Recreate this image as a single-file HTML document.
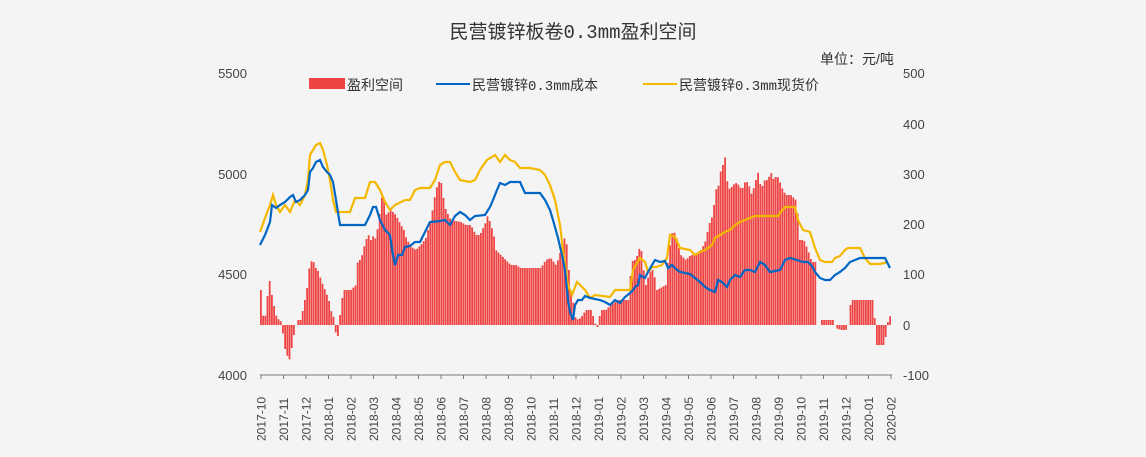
<!DOCTYPE html>
<html><head><meta charset="utf-8"><style>
body{margin:0;background:#f4f4f4;}
svg{display:block;font-family:"Liberation Sans","Noto Sans CJK SC",sans-serif;}
</style></head><body>
<svg id="s" width="1146" height="457" xmlns="http://www.w3.org/2000/svg">
<rect width="1146" height="457" fill="#f4f4f4"/>
<text x="573" y="38" font-size="19" text-anchor="middle" fill="#333" font-family="Liberation Mono,'Noto Sans CJK SC',monospace">民营镀锌板卷0.3mm盈利空间</text>
<text x="820" y="64" font-size="14" fill="#333">单位：元/吨</text>
<g font-size="13" fill="#444">
<text x="247" y="78" text-anchor="end">5500</text>
<text x="247" y="179" text-anchor="end">5000</text>
<text x="247" y="279" text-anchor="end">4500</text>
<text x="247" y="380" text-anchor="end">4000</text>
<text x="903" y="78">500</text>
<text x="903" y="129">400</text>
<text x="903" y="179">300</text>
<text x="903" y="229">200</text>
<text x="903" y="279">100</text>
<text x="903" y="330">0</text>
<text x="903" y="380">-100</text>
</g>
<g font-size="14" fill="#333">
<rect x="309" y="78" width="36" height="11" fill="#ee4444"/>
<text x="347" y="90">盈利空间</text>
<line x1="436" y1="84" x2="470" y2="84" stroke="#0066c4" stroke-width="2"/>
<text x="472" y="90" font-family="Liberation Mono,'Noto Sans CJK SC',monospace">民营镀锌0.3mm成本</text>
<line x1="643" y1="84" x2="677" y2="84" stroke="#f5b800" stroke-width="2"/>
<text x="679" y="90" font-family="Liberation Mono,'Noto Sans CJK SC',monospace">民营镀锌0.3mm现货价</text>
</g>
<g id="bars" fill="#ee4444"></g>
<polyline id="yl" fill="none" stroke="#f5b800" stroke-width="2.2"/>
<polyline id="bl" fill="none" stroke="#0066c4" stroke-width="2.2"/>
<line x1="260" y1="375" x2="892" y2="375" stroke="#777" stroke-width="1"/>
<g id="xl" font-size="12" fill="#444"></g>
</svg>
<script>
var NS="http://www.w3.org/2000/svg";
var Y=[260,232,265,218,270,205,273,195,276,205,280,212,285,205,290,212,295,200,300,205,305,195,308,180,310,155,313,150,316,145,320,143,323,150,327,165,330,180,333,200,336,212,350,212,355,198,365,198,370,182,375,182,380,190,385,202,390,210,395,205,405,200,410,200,415,190,420,188,430,188,435,180,440,165,445,162,450,162,455,172,460,180,470,182,475,180,480,170,487,160,495,155,500,162,505,155,510,160,515,162,520,168,530,168,540,170,545,175,550,185,555,200,560,225,563,250,568,285,572,295,577,282,585,290,590,298,595,295,610,297,615,290,630,290,633,270,637,263,640,258,645,262,648,272,652,267,656,267,662,265,667,258,670,235,675,237,680,248,690,250,695,255,700,252,705,250,712,245,715,238,720,235,725,232,730,230,735,225,740,222,745,220,750,218,755,216,778,216,780,213,785,207,795,207,798,220,803,230,810,232,815,248,820,260,825,262,832,262,835,258,840,256,845,250,848,248,860,248,865,258,870,264,880,264,888,262];
var B=[260,245,265,235,270,222,272,205,276,208,280,205,285,202,290,197,293,195,296,202,300,200,305,195,308,190,310,172,313,168,316,162,320,160,323,167,327,172,330,175,333,182,336,200,340,225,365,225,370,215,373,207,376,207,380,220,385,230,390,235,393,255,395,265,398,255,402,255,405,247,410,246,415,242,420,242,425,232,430,222,440,221,445,220,450,225,455,216,460,212,465,215,470,220,475,216,485,215,490,207,493,200,497,190,500,183,505,185,510,182,520,182,525,193,540,193,545,200,550,210,553,220,558,238,562,255,565,270,568,300,570,312,573,320,575,305,578,300,582,300,585,296,590,298,600,300,605,302,610,305,615,300,620,303,625,297,630,293,633,290,636,286,638,285,640,275,645,278,648,272,652,265,655,260,660,262,665,261,668,268,672,265,675,268,680,272,690,274,695,278,700,282,705,287,710,290,715,292,718,280,722,282,727,287,730,280,735,275,740,277,745,270,750,270,755,272,760,262,765,265,770,272,780,270,785,260,790,258,797,260,803,262,808,262,812,266,815,272,820,278,825,280,830,280,835,275,840,272,845,268,850,262,860,258,885,258,890,268];
function pl(a){var s="";for(var i=0;i<a.length;i+=2)s+=a[i]+","+a[i+1]+" ";return s;}
document.getElementById("yl").setAttribute("points",pl(Y));
document.getElementById("bl").setAttribute("points",pl(B));
var T=[260,290,263,325,266,305,268,275,270,290,272,300,275,315,278,320,281,322,283,345,286,355,289,360,292,340,294,330,296,320,300,320,303,305,306,290,308,270,310,262,312,260,315,268,318,272,320,280,325,292,328,300,330,310,333,318,336,342,338,330,340,305,343,290,350,290,355,285,357,260,360,260,365,240,368,235,370,240,373,235,375,240,378,220,380,205,382,190,385,215,390,210,395,215,400,225,403,230,406,240,410,245,412,248,415,250,420,245,425,238,430,220,435,190,438,182,440,180,442,195,445,210,450,220,460,222,465,225,470,225,475,235,478,235,480,233,485,222,487,215,490,225,493,235,495,250,500,255,505,260,510,265,515,265,520,268,540,268,545,260,550,258,555,265,558,258,561,245,565,235,568,270,570,290,572,300,575,320,580,318,585,310,590,310,593,318,596,330,600,310,605,310,610,305,617,300,628,300,630,270,632,260,635,260,638,250,640,245,642,265,645,285,648,275,651,268,654,278,656,290,665,285,668,252,672,230,675,235,678,248,680,255,685,260,690,255,695,255,700,250,703,245,705,240,708,225,712,215,715,190,718,185,720,170,722,165,724,155,726,180,729,190,732,185,735,183,738,185,741,190,745,180,748,185,751,195,755,180,758,170,760,190,764,180,767,180,770,172,773,180,776,175,779,182,782,190,785,195,790,195,795,200,797,215,799,240,803,240,807,250,811,262,815,262,818,325,820,320,833,320,835,328,840,330,845,330,848,325,850,300,873,300,875,345,884,345,886,325,890,314];
function tp(x){for(var i=0;i<T.length-2;i+=2){if(x>=T[i]&&x<=T[i+2]){var f=(x-T[i])/(T[i+2]-T[i]);return T[i+1]+f*(T[i+3]-T[i+1]);}}return 325;}
var g=document.getElementById("bars");var h="";
for(var x=260;x<=891;x+=2.2){var t=tp(x);if(x>815&&x<819)continue;var y0=Math.min(t,325),hh=Math.abs(t-325);if(hh<1)continue;
h+='<rect x="'+x.toFixed(1)+'" y="'+y0.toFixed(1)+'" width="1.8" height="'+hh.toFixed(1)+'"/>';}
g.innerHTML=h;
var xl=document.getElementById("xl");var s="";
for(var i=0;i<29;i++){var m=(9+i)%12+1,yr=2017+Math.floor((9+i)/12);var lab=yr+"-"+(m<10?"0"+m:m);var x=261+i*22.5;
s+='<line x1="'+x+'" y1="375" x2="'+x+'" y2="379" stroke="#777"/>';
s+='<text transform="translate('+(x+4.5)+',441) rotate(-90)">'+lab+'</text>';}
xl.innerHTML=s;
</script>
</body></html>
